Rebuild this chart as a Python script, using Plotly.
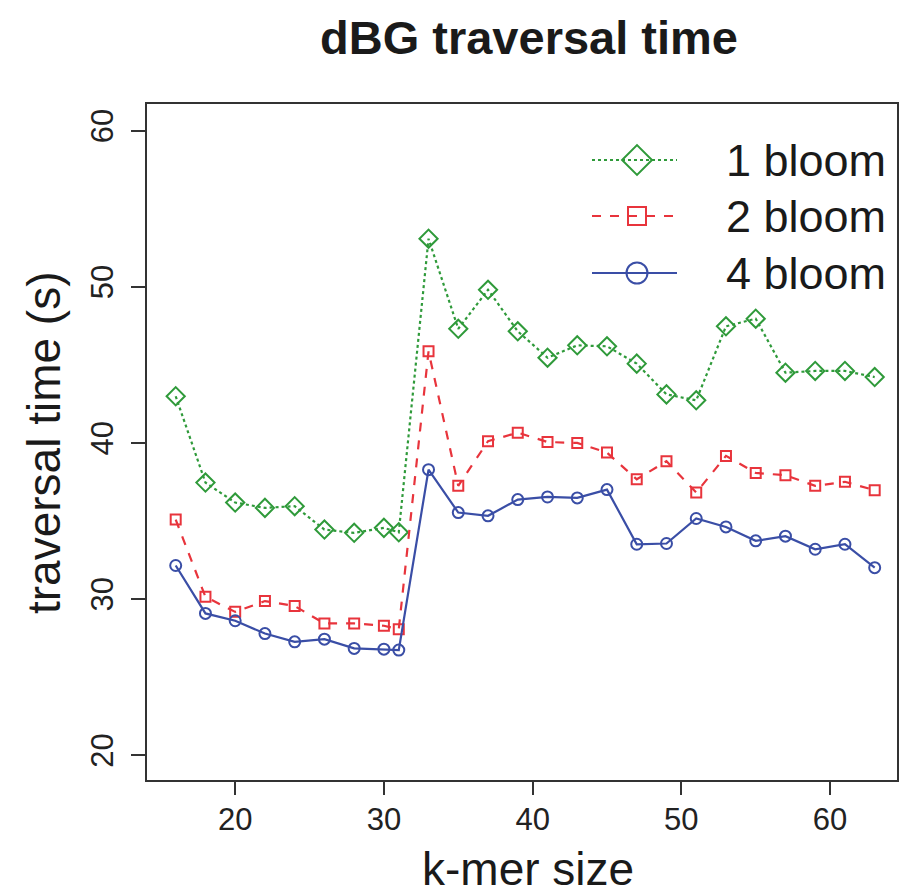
import plotly.graph_objects as go

kmer = [16, 18, 20, 22, 24, 26, 28, 30, 31, 33, 35, 37, 39, 41, 43, 45,
        47, 49, 51, 53, 55, 57, 59, 61, 63]
bloom1 = [42.98, 37.45, 36.17, 35.83, 35.94, 34.44, 34.23, 34.55, 34.27,
          53.07, 47.3, 49.8, 47.14, 45.45, 46.24, 46.18,
          45.07, 43.1, 42.72, 47.46, 47.95, 44.49, 44.6, 44.6, 44.21]
bloom2 = [35.08, 30.13, 29.17, 29.86, 29.54, 28.43, 28.43, 28.28, 28.06,
          45.86, 37.24, 40.1, 40.65, 40.05, 39.99, 39.37,
          37.66, 38.82, 36.81, 39.16, 38.07, 37.92, 37.24, 37.5, 36.96]
bloom4 = [32.14, 29.07, 28.6, 27.78, 27.25, 27.42, 26.83, 26.78, 26.72,
          38.28, 35.53, 35.32, 36.36, 36.53, 36.47, 37.0,
          33.5, 33.55, 35.15, 34.61, 33.72, 34.02, 33.18, 33.5, 32.0]
names = ["1 bloom", "2 bloom", "4 bloom"]
xticks = [20, 30, 40, 50, 60]
yticks = [20, 30, 40, 50, 60]

GREEN = "#2f9a3a"
RED = "#e8343c"
BLUE = "#3a4ea6"
FONT = "Liberation Sans, Arial, Helvetica, sans-serif"
TXT = "#1a1a1a"

styles = [
    dict(color=GREEN, dash="dot", symbol="diamond-open", size=14),
    dict(color=RED, dash="dash", symbol="square-open", size=10),
    dict(color=BLUE, dash="solid", symbol="circle-open", size=11),
]

W0, W1, H0, H1 = 147, 897, 104, 780
FW, FH = 900, 896


def px(v):
    return (v - W0) / (W1 - W0)


def py(v):
    return (H1 - v) / (H1 - H0)


fig = go.Figure()
for ys, nm, st in zip([bloom1, bloom2, bloom4], names, styles):
    fig.add_trace(go.Scatter(
        x=kmer, y=ys, name=nm, mode="lines+markers",
        line=dict(color=st["color"], dash=st["dash"], width=2.2),
        marker=dict(symbol=st["symbol"], size=st["size"], color=st["color"],
                    line=dict(width=2, color=st["color"])),
        showlegend=False))

# manual legend (positioned via overlay axes spanning the plot area)
rows = [160, 216, 273]
leg_sizes = [23, 18, 21]
for nm, st, r, ms in zip(names, styles, rows, leg_sizes):
    fig.add_trace(go.Scatter(
        x=[px(592), px(637), px(677)], y=[py(r)] * 3, xaxis="x2", yaxis="y2",
        mode="lines", line=dict(color=st["color"], dash=st["dash"], width=2.2),
        showlegend=False, hoverinfo="skip"))
    fig.add_trace(go.Scatter(
        x=[px(637)], y=[py(r)], xaxis="x2", yaxis="y2", mode="markers",
        marker=dict(symbol=st["symbol"], size=ms, color=st["color"],
                    line=dict(width=2, color=st["color"])),
        showlegend=False, hoverinfo="skip"))
    fig.add_annotation(x=px(724), y=py(r), xref="x2", yref="y2", text=nm,
                       showarrow=False, xanchor="left", yanchor="middle",
                       font=dict(family=FONT, size=45, color=TXT))

# axis titles
fig.add_annotation(x=px(528), y=py(869), xref="paper", yref="paper",
                   text="k-mer size", showarrow=False, xanchor="center",
                   yanchor="middle", font=dict(family=FONT, size=46, color=TXT))
fig.add_annotation(x=px(44), y=py(443), xref="paper", yref="paper",
                   text="traversal time (s)", showarrow=False, textangle=-90,
                   xanchor="center", yanchor="middle",
                   font=dict(family=FONT, size=46, color=TXT))

fig.update_layout(
    width=FW, height=FH,
    margin=dict(l=W0, r=FW - W1, t=H0, b=FH - H1),
    paper_bgcolor="white", plot_bgcolor="white",
    title=dict(text="<b>dBG traversal time</b>", x=529 / FW, xref="container",
               xanchor="center", y=1 - 38 / FH, yref="container",
               yanchor="middle",
               font=dict(family=FONT, size=47, color=TXT)),
    xaxis=dict(range=[14.07, 64.5], tickvals=xticks, ticks="outside",
               ticklen=13, tickwidth=2, tickcolor="#333333",
               showline=True, linecolor="#333333", linewidth=2, mirror=True,
               showgrid=False, zeroline=False, automargin=False,
               ticklabelstandoff=-2,
               tickfont=dict(family=FONT, size=31, color="#222222")),
    yaxis=dict(range=[18.4, 61.7], tickvals=yticks, ticks="outside",
               ticklen=14, tickwidth=2, tickcolor="#333333",
               showline=True, linecolor="#333333", linewidth=2, mirror=True,
               showgrid=False, zeroline=False, tickangle=-90, automargin=False,
               ticklabelstandoff=6,
               tickfont=dict(family=FONT, size=31, color="#222222")),
    xaxis2=dict(range=[0, 1], overlaying="x", visible=False, fixedrange=True),
    yaxis2=dict(range=[0, 1], overlaying="y", visible=False, fixedrange=True),
)

fig.write_html(
    "out.html",
    config={"displayModeBar": False},
    post_script="document.body.style.margin='0px';"
                "document.body.style.padding='0px';"
                "document.documentElement.style.overflow='hidden';",
)
